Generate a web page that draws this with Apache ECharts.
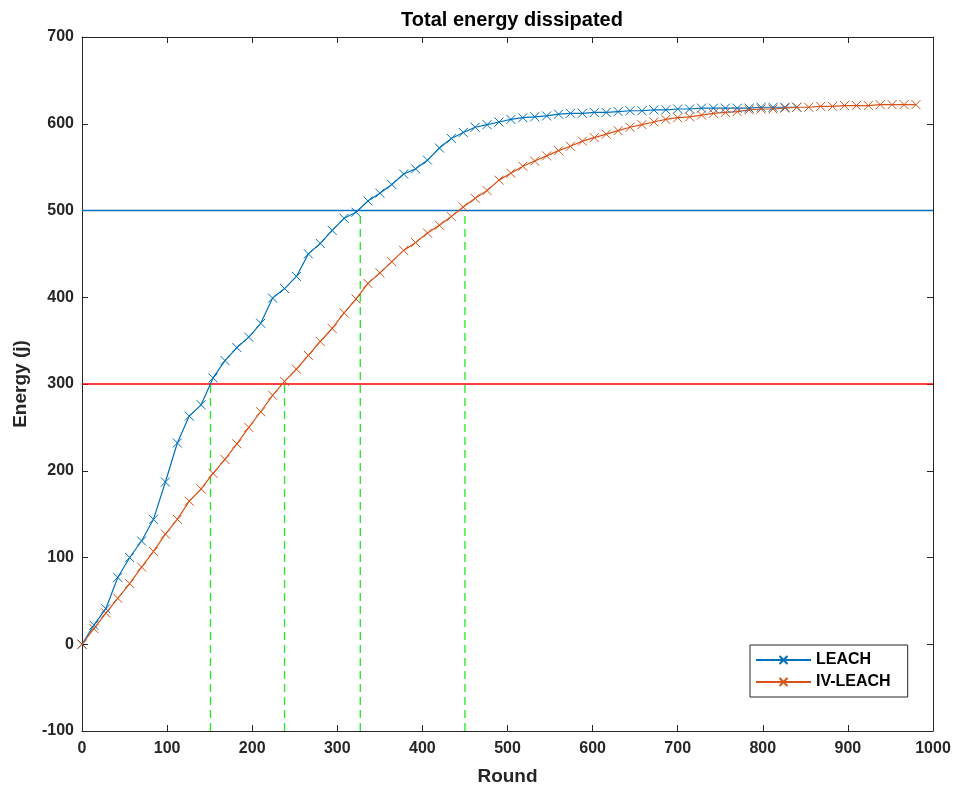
<!DOCTYPE html>
<html>
<head>
<meta charset="utf-8">
<script src="https://cdn.jsdelivr.net/npm/echarts@6/dist/echarts.min.js"></script>
<style>html,body{margin:0;padding:0;background:#fff}#c{width:959px;height:791px}</style>
</head>
<body>
<div id="c"></div>
<script>
var leachRounds = [0,14,28,42,56,70,84,98,112,126,140,154,168,182,196,210,224,238,252,266,280,294,308,322,336,350,364,378,392,406,420,434,448,462,476,490,504,518,532,546,560,574,588,602,616,630,644,658,672,686,700,714,728,742,756,770,784,798,812,826,840];
var leachEnergy = [0,22,41,77,100,119,144,187,232,263,276,307,327,342,354,370,399,410,424,450,462,477,491,498,511,520,530,542,548,558,572,583,590,596,599,602,605,607,608,609,611,612,612,613,613,614,615,615,616,616,617,617,618,618,618,618,618,619,619,619,619];
var ivRounds = [0,14,28,42,56,70,84,98,112,126,140,154,168,182,196,210,224,238,252,266,280,294,308,322,336,350,364,378,392,406,420,434,448,462,476,490,504,518,532,546,560,574,588,602,616,630,644,658,672,686,700,714,728,742,756,770,784,798,812,826,840,854,868,882,896,910,924,938,952,966,980];
var ivEnergy = [0,18,36,53,70,89,107,127,144,165,179,197,213,231,250,268,287,303,317,333,349,364,382,398,416,428,441,454,463,474,483,493,504,514,523,535,543,551,557,563,569,574,580,584,588,592,596,599,602,605,607,608,610,612,613,614,616,617,617,618,619,619,620,620,621,621,621,622,622,622,622];
var thresholdLevels = [500, 300];
var dropRounds = [151, 238, 327, 450];
var dropTops = [300, 300, 500, 500];
var xTicks = [0,100,200,300,400,500,600,700,800,900,1000];
var yTicks = [-100,0,100,200,300,400,500,600,700];

var BLUE = '#0072BD', ORANGE = '#D95319', TXT = '#262626';
var FONT = '"Liberation Sans", Arial, sans-serif';
var cross = 'path://M0,0L10,10M10,0L0,10';

function zip(a, b) { return a.map(function (v, i) { return [v, b[i]]; }); }

var series = [
  { name: 'LEACH', type: 'line', data: zip(leachRounds, leachEnergy), symbol: cross, symbolSize: 9,
    showAllSymbol: true, lineStyle: { color: BLUE, width: 1.2 },
    itemStyle: { color: BLUE, borderColor: BLUE, borderWidth: 1 }, z: 5 },
  { name: 'IV-LEACH', type: 'line', data: zip(ivRounds, ivEnergy), symbol: cross, symbolSize: 9,
    showAllSymbol: true, lineStyle: { color: ORANGE, width: 1.2 },
    itemStyle: { color: ORANGE, borderColor: ORANGE, borderWidth: 1 }, z: 5 },
  { name: 'th500', type: 'line', data: [[0, thresholdLevels[0]], [1000, thresholdLevels[0]]], symbol: 'none',
    lineStyle: { color: BLUE, width: 1.5 }, silent: true, z: 3 },
  { name: 'th300', type: 'line', data: [[0, thresholdLevels[1]], [1000, thresholdLevels[1]]], symbol: 'none',
    lineStyle: { color: '#ff0000', width: 1.5 }, silent: true, z: 3 }
];
dropRounds.forEach(function (r, i) {
  series.push({ name: 'drop' + i, type: 'line', data: [[r, -100], [r, dropTops[i]]], symbol: 'none',
    lineStyle: { color: '#22e622', width: 1.3, type: [8, 5] }, silent: true, z: 2 });
});

function axisCommon() {
  return {
    axisLine: { show: true, onZero: false, lineStyle: { color: TXT, width: 1 } },
    axisTick: { show: true, inside: true, length: 6, lineStyle: { color: TXT } },
    splitLine: { show: false }
  };
}

var chart = echarts.init(document.getElementById('c'), null, { renderer: 'canvas' });
chart.setOption({
  backgroundColor: '#fff',
  animation: false,
  title: { text: 'Total energy dissipated', left: 507, top: 5, textAlign: 'center',
    textStyle: { fontFamily: FONT, fontWeight: 'bold', fontSize: 20, color: '#000' } },
  grid: { left: 82, right: 26, top: 37, bottom: 60 },
  legend: {
    data: ['LEACH', 'IV-LEACH'], orient: 'vertical', left: 750, top: 645,
    backgroundColor: '#fff', borderColor: TXT, borderWidth: 1, borderRadius: 0,
    padding: [7, 17, 7, 5], itemGap: 6, itemWidth: 55, itemHeight: 10,
    textStyle: { fontFamily: FONT, fontWeight: 'bold', fontSize: 16, color: '#000' }
  },
  xAxis: [
    Object.assign({ type: 'value', min: 0, max: 1000, interval: 100, position: 'bottom',
      name: 'Round', nameLocation: 'middle', nameGap: 36,
      nameTextStyle: { fontFamily: FONT, fontWeight: 'bold', fontSize: 19, color: TXT },
      axisLabel: { fontFamily: FONT, fontWeight: 'bold', fontSize: 16, color: TXT, margin: 10,
        formatter: function (v) { return xTicks.indexOf(v) >= 0 ? String(v) : ''; } } }, axisCommon()),
    Object.assign({ type: 'value', min: 0, max: 1000, interval: 100, position: 'top',
      axisLabel: { show: false } }, axisCommon())
  ],
  yAxis: [
    Object.assign({ type: 'value', min: -100, max: 700, interval: 100, position: 'left',
      name: 'Energy (j)', nameLocation: 'middle', nameGap: 52,
      nameTextStyle: { fontFamily: FONT, fontWeight: 'bold', fontSize: 19, color: TXT },
      axisLabel: { fontFamily: FONT, fontWeight: 'bold', fontSize: 16, color: TXT, margin: 8,
        formatter: function (v) { return yTicks.indexOf(v) >= 0 ? String(v) : ''; } } }, axisCommon()),
    Object.assign({ type: 'value', min: -100, max: 700, interval: 100, position: 'right',
      axisLabel: { show: false } }, axisCommon())
  ],
  series: series
});
</script>
</body>
</html>
